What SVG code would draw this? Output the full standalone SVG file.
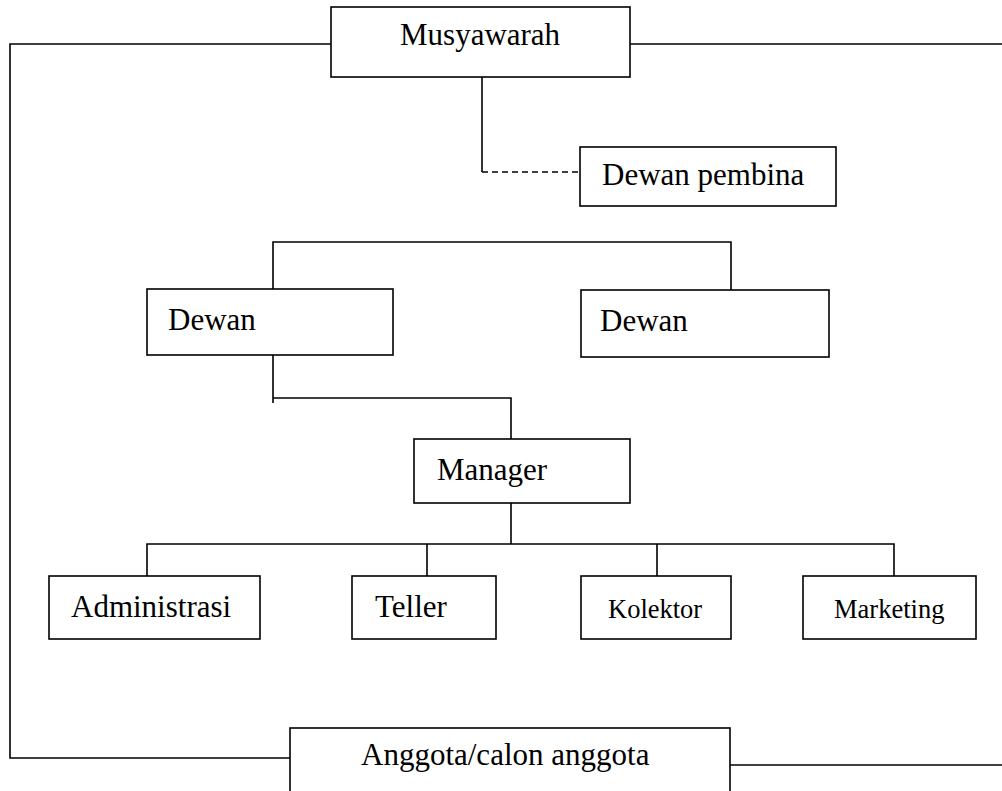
<svg xmlns="http://www.w3.org/2000/svg" width="1002" height="791" viewBox="0 0 1002 791">
<style>
.box{fill:#fff;stroke:#000;stroke-width:1.6}
.ln{fill:none;stroke:#000;stroke-width:1.6}
.dash{fill:none;stroke:#000;stroke-width:1.4;stroke-dasharray:6,4}
.t{font-family:'Liberation Serif','Times New Roman',Times,serif;font-size:31px;fill:#000}
.s{font-family:'Liberation Serif','Times New Roman',Times,serif;font-size:26.5px;fill:#000}
</style>
<rect width="1002" height="791" fill="#fff"/>
<g id="connectors">
<path class="ln" d="M331,44 H10 V758 H290"/>
<path class="ln" d="M630,44 H1002"/>
<path class="ln" d="M730,765 H1002"/>
<path class="ln" d="M482,77 V172"/>
<path class="dash" d="M482,172 H580"/>
<path class="ln" d="M273,289 V242 H731 V290"/>
<path class="ln" d="M273,355 V403 M273,398 H511 V439"/>
<path class="ln" d="M511,503 V544 M147,576 V544 H894 V576 M427,544 V576 M657,544 V576"/>
</g>
<g id="musyawarah"><rect class="box" x="331" y="7" width="299" height="70"/><text class="t" x="400" y="45">Musyawarah</text></g>
<g id="dewan-pembina"><rect class="box" x="580" y="147" width="256" height="59"/><text class="t" x="602" y="185">Dewan pembina</text></g>
<g id="dewan-1"><rect class="box" x="147" y="289" width="246" height="66"/><text class="t" x="168" y="330">Dewan</text></g>
<g id="dewan-2"><rect class="box" x="581" y="290" width="248" height="67"/><text class="t" x="600" y="331">Dewan</text></g>
<g id="manager"><rect class="box" x="414" y="439" width="216" height="64"/><text class="t" x="437" y="480">Manager</text></g>
<g id="administrasi"><rect class="box" x="49" y="576" width="211" height="63"/><text class="t" x="71" y="617">Administrasi</text></g>
<g id="teller"><rect class="box" x="352" y="576" width="144" height="63"/><text class="t" x="375" y="617">Teller</text></g>
<g id="kolektor"><rect class="box" x="581" y="576" width="150" height="63"/><text class="s" x="608" y="618">Kolektor</text></g>
<g id="marketing"><rect class="box" x="803" y="576" width="173" height="63"/><text class="s" x="834" y="618">Marketing</text></g>
<g id="anggota"><rect class="box" x="290" y="728" width="440" height="70"/><text class="t" x="361" y="765">Anggota/calon anggota</text></g>
</svg>
